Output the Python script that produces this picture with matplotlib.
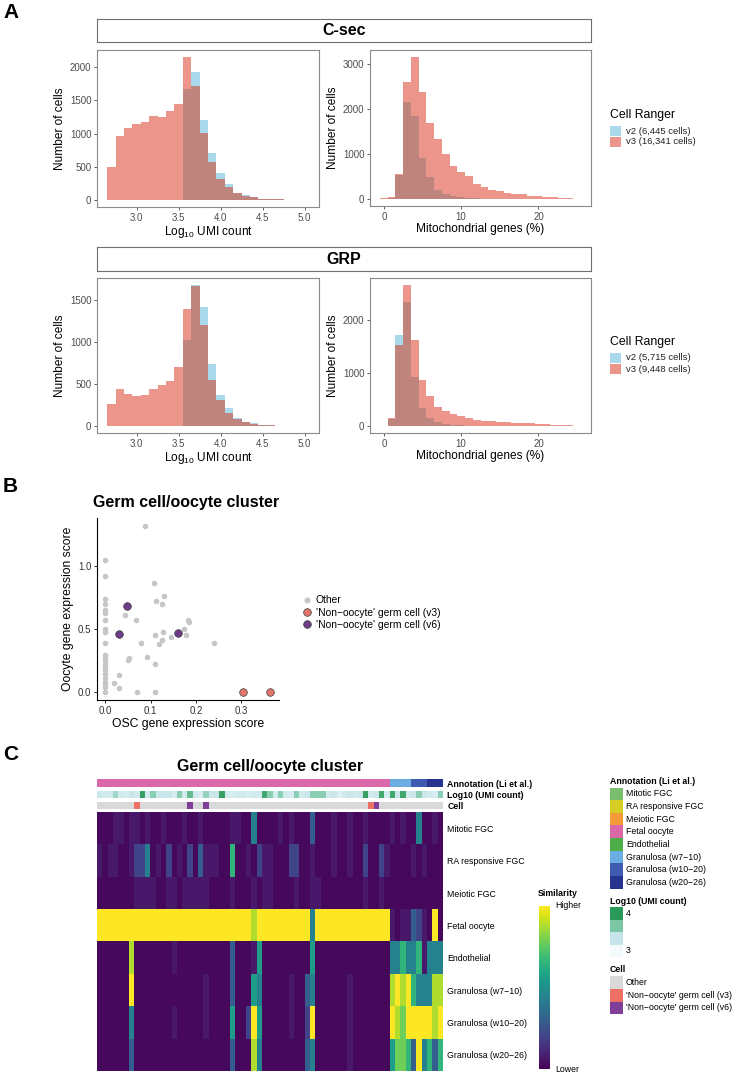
import numpy as np
import matplotlib.pyplot as plt
from matplotlib.colors import ListedColormap, LinearSegmentedColormap
from matplotlib.patches import Rectangle
from matplotlib.lines import Line2D
from matplotlib.cm import ScalarMappable

plt.rcParams['font.family'] = ['Liberation Sans', 'DejaVu Sans']
plt.rcParams['mathtext.default'] = 'regular'

# ---------------- data: panel A (cells per bin) ----------------
umi_bins = np.round(np.arange(2.7, 5.05, 0.1), 2)
mito_bins = np.arange(0, 26)

csec_umi_v2 = [0, 0, 0, 0, 0, 0, 0, 0, 0, 1666, 1934, 1210, 704, 410, 240, 110, 70, 40, 20, 10, 6, 4, 2, 1]
csec_umi_v3 = [501, 962, 1078, 1144, 1180, 1261, 1251, 1347, 1438, 2152, 1711, 1003, 577, 320, 200, 100, 65, 40, 20, 10, 6, 4, 2, 1]
csec_mito_v2 = [5, 30, 540, 2164, 1843, 918, 485, 209, 112, 60, 37, 20, 10, 5, 3, 2, 1, 0, 0, 0, 0, 0, 0, 0, 0, 0]
csec_mito_v3 = [10, 50, 545, 2597, 3157, 2373, 1679, 1343, 1007, 731, 597, 507, 321, 261, 209, 172, 134, 112, 100, 75, 60, 50, 37, 22, 15, 8]

grp_umi_v2 = [0, 0, 0, 0, 0, 0, 0, 0, 0, 1024, 1680, 1421, 738, 369, 210, 91, 52, 30, 16, 8, 5, 3, 2, 1]
grp_umi_v3 = [262, 440, 381, 353, 373, 440, 488, 536, 706, 1389, 1670, 1202, 548, 310, 151, 85, 50, 28, 15, 8, 5, 3, 2, 1]
grp_mito_v2 = [3, 140, 1724, 2339, 928, 332, 144, 69, 38, 20, 10, 5, 3, 2, 1, 0, 0, 0, 0, 0, 0, 0, 0, 0, 0, 0]
grp_mito_v3 = [5, 144, 1536, 2658, 1618, 865, 570, 364, 282, 226, 188, 144, 113, 100, 88, 82, 69, 63, 56, 50, 38, 31, 25, 19, 12, 6]

csec_labels = ['v2 (6,445 cells)', 'v3 (16,341 cells)']
grp_labels = ['v2 (5,715 cells)', 'v3 (9,448 cells)']

# ---------------- data: panel B ----------------
other_x = [0, 0, 0, 0, 0, 0, 0, 0, 0, 0, 0, 0, 0, 0, 0, 0, 0, 0, 0, 0, 0, 0,
           0.02, 0.03, 0.031, 0.044, 0.05, 0.052, 0.068, 0.071, 0.078, 0.093, 0.088, 0.107, 0.109,
           0.109, 0.11, 0.111, 0.118, 0.126, 0.126, 0.128, 0.13, 0.145, 0.174, 0.178, 0.182, 0.185, 0.24]
other_y = [1.05, 0.92, 0.74, 0.70, 0.65, 0.63, 0.57, 0.50, 0.48, 0.39, 0.29, 0.27, 0.25, 0.22, 0.20,
           0.17, 0.14, 0.11, 0.08, 0.06, 0.04, 0.0,
           0.07, 0.03, 0.13, 0.61, 0.25, 0.27, 0.57, 0.0, 0.39, 0.28, 1.32, 0.87, 0.22,
           0.0, 0.45, 0.72, 0.38, 0.41, 0.70, 0.48, 0.76, 0.44, 0.50, 0.45, 0.575, 0.56, 0.39]
v3_x = [0.304, 0.363]
v3_y = [0.0, 0.0]
v6_x = [0.03, 0.048, 0.161]
v6_y = [0.46, 0.68, 0.47]

# ---------------- data: panel C ----------------
ann_names = ['Mitotic FGC', 'RA responsive FGC', 'Meiotic FGC', 'Fetal oocyte', 'Endothelial',
             'Granulosa (w7\u221210)', 'Granulosa (w10\u221220)', 'Granulosa (w20\u221226)']
ann_colors = ['#78BE6C', '#D6CE24', '#F39A3A', '#DB68A8', '#4DAE47', '#6BAEE3', '#3F5BAF', '#26348F']
col_annotation = (['Fetal oocyte'] * 55 + ['Granulosa (w7\u221210)'] * 4
                  + ['Granulosa (w10\u221220)'] * 3 + ['Granulosa (w20\u221226)'] * 3)

umi_log10 = [3.3, 3.25, 3.25, 3.5, 3.25, 3.2, 3.3, 3.25, 3.95, 3.25,
             3.6, 3.3, 3.3, 3.3, 3.2, 3.6, 3.25, 3.75, 3.25, 3.2,
             3.55, 3.3, 3.3, 3.95, 3.25, 3.2, 3.25, 3.25, 3.2, 3.25,
             3.25, 3.9, 3.6, 3.25, 3.6, 3.25, 3.2, 3.6, 3.25, 3.3,
             3.6, 3.6, 3.6, 3.25, 3.3, 3.15, 3.25, 3.3, 3.25, 3.3,
             3.95, 3.25, 3.3, 3.9, 3.25, 3.9, 3.3, 3.9, 3.25, 3.3,
             3.6, 3.3, 3.25, 3.2, 3.6]

cell_names = ['Other', "'Non\u2212oocyte' germ cell (v3)", "'Non\u2212oocyte' germ cell (v6)"]
cell_colors = ['#D9D9D9', '#EE6F63', '#7F3F98']
cell_type = ['Other'] * 7 + ['v3'] + ['Other'] * 9 + ['v6'] + ['Other'] * 2 + ['v6'] + ['Other'] * 30 + ['v3', 'v6'] + ['Other'] * 12

# similarity levels 0 (lower) .. 9 (higher), one list per annotation row
sim_mitotic = [0, 0, 0, 1, 1, 0, 1, 1, 0, 1, 0, 0, 1, 0, 0, 0, 1, 0, 0, 1, 0, 0, 0, 0, 0, 1, 1, 0, 0, 4,
               0, 0, 0, 0, 1, 0, 1, 0, 0, 0, 3, 0, 0, 0, 1, 0, 0, 1, 0, 0, 1, 0, 0, 0, 0, 1, 0, 1, 0, 0,
               4, 0, 0, 1, 0]
sim_ra = [1, 0, 1, 1, 0, 0, 1, 2, 2, 4, 0, 1, 0, 2, 0, 1, 0, 2, 0, 3, 1, 1, 1, 0, 0, 6, 0, 0, 1, 0,
          2, 1, 1, 0, 0, 0, 2, 2, 0, 0, 1, 0, 0, 0, 1, 0, 0, 1, 0, 0, 2, 0, 0, 2, 1, 0, 0, 0, 0, 1,
          0, 1, 0, 0, 0]
sim_meiotic = [0, 0, 0, 0, 0, 0, 0, 1, 1, 1, 1, 0, 0, 1, 1, 0, 1, 1, 1, 1, 1, 0, 0, 0, 0, 1, 0, 0, 0, 1,
               0, 1, 1, 0, 0, 0, 0, 1, 0, 0, 1, 1, 0, 0, 0, 0, 0, 0, 0, 0, 1, 0, 0, 1, 0, 0, 0, 0, 0, 0,
               0, 0, 0, 0, 0]
sim_fetal = [9, 9, 9, 9, 9, 9, 9, 9, 9, 9, 9, 9, 9, 9, 9, 9, 9, 9, 9, 9, 9, 9, 9, 9, 9, 9, 9, 9, 9, 8,
             9, 9, 9, 9, 9, 9, 9, 9, 9, 9, 4, 9, 9, 9, 9, 9, 9, 9, 9, 9, 9, 9, 9, 9, 9,
             1, 0, 1, 1, 3, 2, 1, 0, 9, 0]
sim_endo = [0, 0, 0, 0, 0, 0, 8, 0, 0, 0, 0, 0, 0, 0, 1, 0, 0, 0, 0, 0, 0, 0, 0, 0, 0, 3, 0, 0, 0, 1,
            5, 0, 0, 0, 0, 0, 0, 0, 0, 0, 5, 0, 0, 0, 0, 0, 0, 0, 0, 0, 0, 0, 0, 0, 0,
            4, 4, 6, 4, 4, 6, 1, 4, 4, 4]
sim_g7 = [0, 0, 0, 0, 0, 0, 9, 0, 0, 0, 0, 0, 0, 0, 0, 0, 0, 0, 0, 0, 1, 0, 0, 0, 0, 3, 0, 0, 0, 5,
          4, 0, 0, 0, 0, 0, 1, 0, 0, 3, 4, 0, 0, 0, 0, 0, 0, 1, 0, 0, 0, 0, 0, 0, 0,
          8, 9, 8, 9, 6, 4, 4, 4, 8, 8]
sim_g10 = [0, 0, 0, 0, 0, 0, 4, 0, 0, 0, 0, 0, 0, 0, 1, 0, 0, 0, 0, 0, 1, 0, 0, 0, 0, 5, 0, 0, 2, 9,
           5, 0, 0, 0, 0, 0, 1, 0, 0, 2, 9, 0, 0, 0, 0, 0, 0, 1, 0, 0, 0, 0, 0, 0, 0,
           9, 8, 7, 9, 9, 9, 9, 9, 8, 9]
sim_g20 = [0, 0, 0, 0, 0, 0, 3, 0, 0, 0, 0, 0, 0, 0, 0, 0, 0, 0, 0, 0, 0, 0, 0, 0, 0, 3, 0, 0, 0, 8,
           4, 0, 0, 0, 0, 0, 0, 0, 0, 3, 4, 0, 0, 0, 0, 0, 0, 1, 0, 0, 0, 0, 0, 0, 0,
           5, 7, 7, 6, 3, 9, 4, 6, 3, 6]

# position of each similarity level on the viridis scale
level_pos = [0.02, 0.07, 0.2, 0.3, 0.44, 0.56, 0.66, 0.78, 0.88, 1.0]

# ---------------- figure helpers ----------------
W, H = 733, 1076
fig = plt.figure(figsize=(W / 100, H / 100), dpi=100)


def fx(x):
    return x / W


def fy(y):
    return 1 - y / H


def box(x0, y0, x1, y1):
    return [x0 / W, 1 - y1 / H, (x1 - x0) / W, (y1 - y0) / H]


BLUE = '#A9D9EA'
RED = '#EC968B'
BOTH = '#BF847E'


def strip(rect, label):
    ax = fig.add_axes(rect)
    ax.set_xticks([])
    ax.set_yticks([])
    for s in ax.spines.values():
        s.set_color('#6e6e6e')
        s.set_linewidth(0.8)
    ax.text(0.5, 0.5, label, ha='center', va='center', fontsize=11.5,
            fontweight='bold', transform=ax.transAxes)


def hist_panel(rect, bins, v2, v3, width, xlim, xticks, yticks, xlabel):
    ax = fig.add_axes(rect)
    v2 = np.array(v2)
    v3 = np.array(v3)
    both = np.minimum(v2, v3)
    ax.bar(bins, both, width=width, color=BOTH, linewidth=0)
    ax.bar(bins, v2 - both, bottom=both, width=width, color=BLUE, linewidth=0)
    ax.bar(bins, v3 - both, bottom=both, width=width, color=RED, linewidth=0)
    top = max(v2.max(), v3.max())
    ax.set_ylim(-0.05 * top, 1.05 * top)
    ax.set_xlim(*xlim)
    ax.set_xticks(xticks)
    ax.set_yticks(yticks)
    for s in ax.spines.values():
        s.set_color('#8a8a8a')
        s.set_linewidth(0.8)
    ax.tick_params(direction='out', length=2.5, width=0.6, color='#444444',
                   labelsize=7, labelcolor='#4d4d4d', pad=1.5)
    ax.set_xlabel(xlabel, fontsize=8.6, labelpad=1)
    ax.set_ylabel('Number of cells', fontsize=8.6, labelpad=3)
    return ax


def ranger_legend(y_title, labels):
    fig.text(fx(610), fy(y_title), 'Cell Ranger', fontsize=8.8, va='center')
    for i, (lab, c) in enumerate(zip(labels, [BLUE, RED])):
        yc = y_title + 16 + i * 11
        fig.add_artist(Rectangle((fx(610), fy(yc + 5)), 10.5 / W, 10 / H,
                                 transform=fig.transFigure, fc=c, ec='none'))
        fig.text(fx(626), fy(yc), lab, fontsize=6.8, va='center', color='#222222')


# ---------------- panel A ----------------
fig.text(fx(3), fy(13), 'A', fontsize=15, fontweight='bold', va='center')

strip(box(97, 19, 591, 42), 'C-sec')
hist_panel(box(97, 50, 319, 207), umi_bins, csec_umi_v2, csec_umi_v3, 0.1,
           (2.53, 5.17), [3.0, 3.5, 4.0, 4.5, 5.0], [0, 500, 1000, 1500, 2000],
           'Log$_{10}$ UMI count')
hist_panel(box(370, 50, 591, 206), mito_bins, csec_mito_v2, csec_mito_v3, 1.0,
           (-1.8, 26.8), [0, 10, 20], [0, 1000, 2000, 3000],
           'Mitochondrial genes (%)')
ranger_legend(115, csec_labels)

strip(box(97, 247, 591, 271), 'GRP')
hist_panel(box(97, 278, 319, 433), umi_bins, grp_umi_v2, grp_umi_v3, 0.1,
           (2.53, 5.17), [3.0, 3.5, 4.0, 4.5, 5.0], [0, 500, 1000, 1500],
           'Log$_{10}$ UMI count')
hist_panel(box(370, 278, 591, 433), mito_bins, grp_mito_v2, grp_mito_v3, 1.0,
           (-1.8, 26.8), [0, 10, 20], [0, 1000, 2000],
           'Mitochondrial genes (%)')
ranger_legend(342, grp_labels)

# ---------------- panel B ----------------
fig.text(fx(3), fy(486), 'B', fontsize=15, fontweight='bold', va='center')
fig.text(fx(93), fy(503), 'Germ cell/oocyte cluster', fontsize=11.5, fontweight='bold', va='center')

axb = fig.add_axes(box(97, 518, 279, 700))
axb.scatter(other_x, other_y, s=16, color='#C6C6C6', linewidths=0, zorder=2)
axb.scatter(v3_x, v3_y, s=30, color='#E2766B', edgecolors='#3a3a3a', linewidths=0.5, zorder=3)
axb.scatter(v6_x, v6_y, s=30, color='#6F3D87', edgecolors='#3a3a3a', linewidths=0.5, zorder=3)
axb.set_xlim(-0.018, 0.383)
axb.set_ylim(-0.066, 1.386)
axb.set_xticks([0.0, 0.1, 0.2, 0.3])
axb.set_xticklabels(['0.0', '0.1', '0.2', '0.3'])
axb.set_yticks([0.0, 0.5, 1.0])
axb.set_yticklabels(['0.0', '0.5', '1.0'])
axb.spines['top'].set_visible(False)
axb.spines['right'].set_visible(False)
axb.spines['left'].set_linewidth(0.8)
axb.spines['bottom'].set_linewidth(0.8)
axb.tick_params(direction='out', length=2.5, width=0.6, labelsize=7, labelcolor='#333333', pad=1.5)
axb.set_xlabel('OSC gene expression score', fontsize=8.7, labelpad=2)
axb.set_ylabel('Oocyte gene expression score', fontsize=8.7, labelpad=3)

b_handles = [
    Line2D([], [], marker='o', ls='', markersize=4.3, markerfacecolor='#C6C6C6', markeredgewidth=0),
    Line2D([], [], marker='o', ls='', markersize=5.5, markerfacecolor='#E2766B',
           markeredgecolor='#3a3a3a', markeredgewidth=0.5),
    Line2D([], [], marker='o', ls='', markersize=5.5, markerfacecolor='#6F3D87',
           markeredgecolor='#3a3a3a', markeredgewidth=0.5),
]
axb.legend(b_handles, cell_names, loc='center left', bbox_to_anchor=(fx(296), fy(612.5)),
           bbox_transform=fig.transFigure, frameon=False, fontsize=7.4,
           handletextpad=0.2, labelspacing=0.2, handlelength=1.2, borderpad=0)

# ---------------- panel C ----------------
fig.text(fx(3), fy(755), 'C', fontsize=15, fontweight='bold', va='center')
fig.text(fx(270), fy(767), 'Germ cell/oocyte cluster', fontsize=11.5, fontweight='bold',
         va='center', ha='center')


def bar_row(rect, values, cmap, vmin, vmax, label):
    ax = fig.add_axes(rect)
    ax.imshow(np.array([values]), cmap=cmap, vmin=vmin, vmax=vmax, aspect='auto',
              interpolation='nearest')
    ax.set_xticks([])
    ax.set_yticks([0])
    ax.set_yticklabels([label], fontsize=6.3, fontweight='bold')
    ax.yaxis.tick_right()
    ax.tick_params(length=0, pad=3)
    for s in ax.spines.values():
        s.set_visible(False)
    return ax


ann_idx = [ann_names.index(a) for a in col_annotation]
bar_row(box(97, 779.3, 443, 787.3), ann_idx, ListedColormap(ann_colors), -0.5, 7.5,
        'Annotation (Li et al.)')

umi_colors = ['#F3FAFC', '#C5E5EA', '#7BC7A5', '#2A9A58']
umi_cmap = LinearSegmentedColormap.from_list('umi', umi_colors)
bar_row(box(97, 790.7, 443, 798), umi_log10, umi_cmap, 3.0, 4.0, 'Log10 (UMI count)')

cell_keys = ['Other', 'v3', 'v6']
cell_idx = [cell_keys.index(c) for c in cell_type]
bar_row(box(97, 801.7, 443, 809.3), cell_idx, ListedColormap(cell_colors), -0.5, 2.5, 'Cell')

similarity = np.array([sim_mitotic, sim_ra, sim_meiotic, sim_fetal, sim_endo, sim_g7, sim_g10, sim_g20])
sim_cmap = ListedColormap(plt.get_cmap('viridis')(level_pos))
axh = fig.add_axes(box(97, 812.3, 443, 1071))
axh.imshow(similarity, cmap=sim_cmap, vmin=-0.5, vmax=9.5, aspect='auto', interpolation='nearest')
axh.set_xticks([])
axh.set_yticks(range(len(ann_names)))
axh.set_yticklabels(ann_names, fontsize=6.3)
axh.yaxis.tick_right()
axh.tick_params(length=0, pad=3)
for s in axh.spines.values():
    s.set_visible(False)

# similarity colour bar
fig.text(fx(538), fy(894), 'Similarity', fontsize=6.3, fontweight='bold', va='center')
cax = fig.add_axes(box(539, 906, 550, 1069))
cb = fig.colorbar(ScalarMappable(cmap='viridis'), cax=cax)
cb.set_ticks([])
cb.outline.set_visible(False)
cax.text(1.45, 1.0, 'Higher', transform=cax.transAxes, fontsize=6.3, va='center')
cax.text(1.45, 0.0, 'Lower', transform=cax.transAxes, fontsize=6.3, va='center')


def key_legend(y_title, title, labels, colors, y_first, step=12.6):
    fig.text(fx(610), fy(y_title), title, fontweight='bold', fontsize=6.3, va='center')
    for i, (lab, c) in enumerate(zip(labels, colors)):
        yc = y_first + i * step
        fig.add_artist(Rectangle((fx(610), fy(yc + step / 2)), 12.7 / W, step / H,
                                 transform=fig.transFigure, fc=c, ec='none'))
        fig.text(fx(626), fy(yc), lab, fontsize=6.3, va='center')


key_legend(781.7, 'Annotation (Li et al.)', ann_names, ann_colors, 794)
key_legend(901.7, 'Log10 (UMI count)', ['4', '', '', '3'], umi_colors[::-1], 913.3, step=12.5)
key_legend(970, 'Cell', cell_names, cell_colors, 982.7)

fig.savefig('out.png', dpi=100)
